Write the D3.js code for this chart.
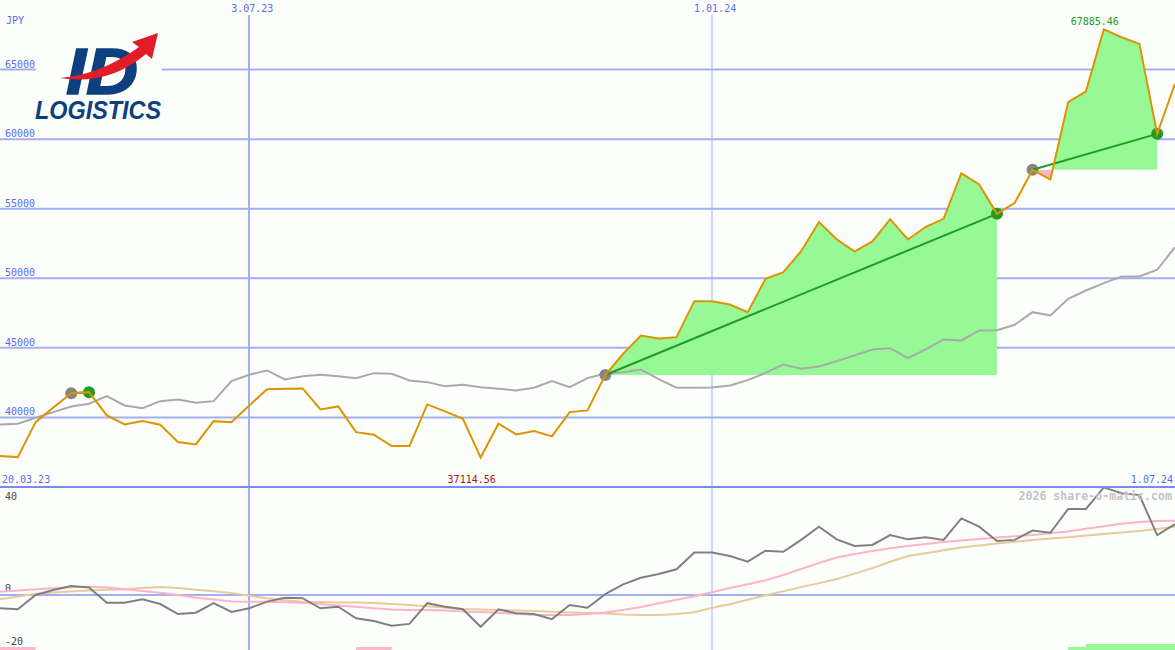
<!DOCTYPE html>
<html>
<head>
<meta charset="utf-8">
<script src="https://cdn.jsdelivr.net/npm/d3@7/dist/d3.min.js"></script>
<style>
body{margin:0;background:#fcfefc}
svg{display:block}
text{font-family:"DejaVu Sans Mono",monospace;font-size:10px}
</style>
</head>
<body>
<div id="chart"></div>
<script>
// weekly closes, one per monday from 27.03.23
var price = [37220, 37148, 39662, 40718, 41746, 41818, 40144, 39497, 39734, 39476,
  38226, 38060, 39734, 39662, 40862, 42033, 42062, 42083, 40575, 40790,
  38944, 38757, 37938, 37938, 40934, 40431, 39907, 37114.56, 39547, 38779,
  39016, 38635, 40381, 40503, 43050, 44576, 45891, 45675, 45769, 48355,
  48355, 48118, 47565, 49964, 50439, 51947, 54045, 52802, 51925, 52644,
  54246, 52788, 53700, 54275, 57551, 56739, 54634, 55424, 57795, 57098,
  62651, 63441, 67885.46, 67321, 66847, 60381, 63973]

// grey moving average
var average = [39497, 39547, 39978, 40381, 40790, 40984, 41530, 40862, 40668, 41171,
  41293, 41056, 41171, 42608, 43068, 43376, 42730, 42967, 43068, 42967,
  42823, 43183, 43139, 42658, 42536, 42249, 42349, 42177, 42062, 41940,
  42134, 42608, 42177, 42823, 43161, 43254, 43448, 42751, 42134, 42134,
  42155, 42299, 42680, 43197, 43808, 43499, 43664, 44045, 44454, 44885,
  44978, 44260, 44885, 45604, 45532, 46250, 46272, 46660, 47565, 47328,
  48527, 49124, 49648, 50129, 50129, 50611, 52234]

// lower panel
var momentum = [-5.0, -5.4, 0, 1.9, 3.4, 2.8, -2.9, -2.9, -1.6, -3.4,
  -7.2, -6.7, -3.1, -6.4, -5.0, -2.5, -1.0, -1.2, -5.0, -4.4,
  -8.8, -9.8, -11.6, -10.9, -3.1, -4.4, -5.4, -12.0, -5.4, -6.9,
  -7.2, -9.1, -3.8, -4.8, 0.3, 4.0, 6.5, 7.9, 9.7, 16.0,
  16.0, 14.7, 12.6, 16.7, 16.3, 20.8, 25.8, 21.0, 18.5, 18.9,
  22.6, 21.0, 21.8, 20.8, 28.9, 25.8, 20.4, 20.8, 24.3, 23.5,
  32.5, 32.5, 40.6, 38.4, 37.7, 22.6, 26.8]
var momFast = [1.25, 1.7, 2.15, 2.57, 2.94, 3.13, 2.83, 2.19, 1.51, 0.87,
  0, -1.02, -1.7, -2.45, -2.53, -2.53, -2.72, -2.94, -3.4, -3.92,
  -4.45, -4.98, -5.47, -5.66, -5.66, -5.89, -6.23, -6.45, -6.68, -7.1,
  -7.55, -7.55, -7.51, -7.17, -6.6, -5.66, -4.53, -3.13, -1.81, -0.45,
  1.02, 2.64, 4.08, 5.55, 7.55, 9.81, 12.08, 14.15, 15.47, 16.64,
  17.66, 18.53, 19.25, 19.96, 20.57, 21.13, 21.66, 22.15, 22.64, 23.28,
  23.96, 24.98, 25.96, 26.87, 27.55, 27.92, 28.04]
var momSlow = [-1.62, -0.57, 0.45, 0.91, 1.36, 1.66, 1.96, 2.19, 2.64, 3.06,
  2.6, 2.0, 1.4, 0.72, -0.3, -1.25, -1.96, -2.53, -2.64, -2.79,
  -2.87, -3.02, -3.4, -3.81, -4.26, -4.75, -5.28, -5.51, -5.66, -5.85,
  -6.04, -6.34, -6.57, -6.79, -7.02, -7.36, -7.55, -7.55, -7.17, -6.53,
  -4.79, -3.47, -1.77, -0.11, 1.43, 2.98, 4.49, 6.04, 8.08, 10.15,
  12.53, 14.72, 15.77, 16.91, 17.92, 18.64, 19.47, 20.08, 20.75, 21.28,
  21.81, 22.42, 22.98, 23.55, 24.11, 24.91, 25.77]

// trades by week index
var trades = [{entry: 4, exit: 5}, {entry: 34, exit: 56}, {entry: 58, exit: 65}]
var signals = [
  {from: 0, to: 2, kind: 'sell', level: 1},
  {from: 20, to: 22, kind: 'sell', level: 1},
  {from: 60, to: 61, kind: 'buy', level: 1},
  {from: 61, to: 66, kind: 'buy', level: 2}
]

var priceTicks = [40000, 45000, 50000, 55000, 60000, 65000]
var momTicks = [40, 0, -20]
var dateTicks = ['2023-07-03', '2024-01-01']
var firstLabel = '20.03.23'
var currency = 'JPY'
var watermark = '2026 share-o-matic.com'

var W = 1175, H = 650, split = 487
var blue = '#a2aff2', labelBlue = '#5a6bef', bg = '#fcfefc'

var parse = d3.timeParse('%Y-%m-%d')
var fmt = d3.timeFormat('%-d.%m.%y')
var weeks = d3.timeMonday.range(parse('2023-03-27'), parse('2024-07-02'))

var x = d3.scaleTime().domain([weeks[0], weeks[weeks.length - 1]]).range([0, W])
var y = d3.scaleLinear().domain([35000, 70000]).range([split, 0])
var ym = d3.scaleLinear().domain([-20, 40]).range([648, 489])
var ys = d3.scaleLinear().domain([0, 2]).range([H, H - 6])

var svg = d3.select('#chart').append('svg').attr('width', W).attr('height', H)
svg.append('rect').attr('width', W).attr('height', H).attr('fill', bg)

var defs = svg.append('defs')
defs.append('clipPath').attr('id', 'clipTop').append('rect').attr('width', W).attr('height', split)
defs.append('clipPath').attr('id', 'clipBot').append('rect').attr('y', split + 1).attr('width', W).attr('height', H - split)

// grid
svg.selectAll('line.hgrid').data(priceTicks).join('line')
  .attr('x1', 0).attr('x2', W).attr('y1', d => y(d)).attr('y2', d => y(d))
  .attr('stroke', blue).attr('stroke-width', 2)
svg.append('line').attr('x1', 0).attr('x2', W).attr('y1', ym(0)).attr('y2', ym(0))
  .attr('stroke', blue).attr('stroke-width', 2)

var dates = dateTicks.map(parse)
svg.selectAll('line.vgrid').data(dates).join('line')
  .attr('x1', d => Math.round(x(d))).attr('x2', d => Math.round(x(d)))
  .attr('y1', 15).attr('y2', H)
  .attr('stroke', blue).attr('stroke-width', (d, i) => i == 0 ? 2 : 1)
svg.selectAll('text.date').data(dates).join('text')
  .attr('x', d => x(d) + 3).attr('y', 12).attr('text-anchor', 'middle')
  .attr('fill', labelBlue).text(fmt)

svg.append('line').attr('x1', 0).attr('x2', W).attr('y1', split).attr('y2', split)
  .attr('stroke', '#7b88ee').attr('stroke-width', 2)

// logo box
svg.append('rect').attr('x', 36).attr('y', 28).attr('width', 126).attr('height', 96).attr('fill', bg)
var logo = svg.append('g')
logo.append('text').attr('x', 66).attr('y', 94).text('ID')
  .attr('textLength', 72).attr('lengthAdjust', 'spacingAndGlyphs')
  .style('font-family', '"Liberation Sans", Arial, sans-serif').style('font-size', '64px')
  .style('font-weight', 'bold').style('font-style', 'italic')
  .attr('fill', '#0e3f7e').attr('stroke', '#0e3f7e').attr('stroke-width', 1.5)
logo.append('text').attr('x', 35).attr('y', 119).text('LOGISTICS')
  .attr('textLength', 126).attr('lengthAdjust', 'spacingAndGlyphs')
  .style('font-family', '"Liberation Sans", Arial, sans-serif').style('font-size', '25px')
  .style('font-weight', 'bold').style('font-style', 'italic').attr('fill', '#0e3f7e')
logo.append('path')
  .attr('d', 'M60,78 Q108,86 146,54 L152,59 L158,33 L132,42 L139,47 Q100,75 60,78 Z')
  .attr('fill', '#e31d27')

// axis labels
svg.append('text').attr('x', 6).attr('y', 24).attr('fill', labelBlue).text(currency)
svg.selectAll('text.ptick').data(priceTicks).join('text')
  .attr('x', 5).attr('y', d => y(d) - 2).attr('fill', labelBlue).text(d => d)
svg.selectAll('text.mtick').data(momTicks).join('text')
  .attr('x', 5).attr('y', d => Math.min(Math.max(ym(d) - 3, 500), 646))
  .attr('fill', '#454545').text(d => d)

var upper = svg.append('g').attr('clip-path', 'url(#clipTop)')
var pts = price.map((p, i) => ({date: weeks[i], price: p, avg: average[i]}))

// trade areas, green above the entry price, pink below
trades.forEach(function(t, k){
  var seg = pts.slice(t.entry, t.exit + 1)
  var base = y(price[t.entry])
  var x0 = x(weeks[t.entry]), x1 = x(weeks[t.exit])
  var area = d3.area().x(d => x(d.date)).y0(base).y1(d => y(d.price))
  defs.append('clipPath').attr('id', 'up' + k).append('rect')
    .attr('x', x0).attr('width', x1 - x0).attr('y', 0).attr('height', base)
  defs.append('clipPath').attr('id', 'dn' + k).append('rect')
    .attr('x', x0).attr('width', x1 - x0).attr('y', base).attr('height', split - base)
  upper.append('path').attr('d', area(seg)).attr('fill', '#96f996').attr('clip-path', 'url(#up' + k + ')')
  upper.append('path').attr('d', area(seg)).attr('fill', '#ffb6c6').attr('clip-path', 'url(#dn' + k + ')')
})

upper.append('path').datum(pts)
  .attr('d', d3.line().x(d => x(d.date)).y(d => y(d.avg)))
  .attr('fill', 'none').attr('stroke', '#a9a9a9').attr('stroke-width', 2)

trades.forEach(function(t){
  upper.append('circle').attr('cx', x(weeks[t.entry])).attr('cy', y(price[t.entry])).attr('r', 6).attr('fill', '#858585')
  upper.append('circle').attr('cx', x(weeks[t.exit])).attr('cy', y(price[t.exit])).attr('r', 6).attr('fill', '#239a23')
  upper.append('line')
    .attr('x1', x(weeks[t.entry])).attr('y1', y(price[t.entry]))
    .attr('x2', x(weeks[t.exit])).attr('y2', y(price[t.exit]))
    .attr('stroke', '#239a23').attr('stroke-width', 2)
})

upper.append('path').datum(pts)
  .attr('d', d3.line().x(d => x(d.date)).y(d => y(d.price)))
  .attr('fill', 'none').attr('stroke', '#de9300').attr('stroke-width', 2)

// high / low labels
var hi = d3.maxIndex(price), lo = d3.minIndex(price)
svg.append('text').attr('x', x(weeks[hi]) - 9).attr('y', y(price[hi]) - 4)
  .attr('text-anchor', 'middle').attr('fill', '#239a23').text(price[hi].toFixed(2))
svg.append('text').attr('x', x(weeks[lo]) - 9).attr('y', split - 4)
  .attr('text-anchor', 'middle').attr('fill', '#a01818').text(price[lo].toFixed(2))
svg.append('text').attr('x', 2).attr('y', split - 4).attr('fill', labelBlue).text(firstLabel)
svg.append('text').attr('x', W - 2).attr('y', split - 4).attr('text-anchor', 'end')
  .attr('fill', labelBlue).text(fmt(weeks[weeks.length - 1]))

// lower panel
var lower = svg.append('g').attr('clip-path', 'url(#clipBot)')
svg.append('text').attr('x', W - 3).attr('y', 500).attr('text-anchor', 'end')
  .attr('fill', '#c4c4c4').style('font-size', '11.6px').style('font-weight', 'bold').text(watermark)

var mline = arr => d3.line().x((d, i) => x(weeks[i])).y(d => ym(d))(arr)
lower.append('path').attr('d', mline(momSlow)).attr('fill', 'none').attr('stroke', '#e6cb9b').attr('stroke-width', 2)
lower.append('path').attr('d', mline(momFast)).attr('fill', 'none').attr('stroke', '#ffb3c6').attr('stroke-width', 2)
lower.append('path').attr('d', mline(momentum)).attr('fill', 'none').attr('stroke', '#808080').attr('stroke-width', 2)

lower.selectAll('rect.sig').data(signals).join('rect')
  .attr('x', d => x(weeks[d.from])).attr('width', d => x(weeks[d.to]) - x(weeks[d.from]))
  .attr('y', d => ys(d.level)).attr('height', d => H - ys(d.level))
  .attr('fill', d => d.kind == 'buy' ? '#96f996' : '#ffb6c6')
</script>
</body>
</html>
